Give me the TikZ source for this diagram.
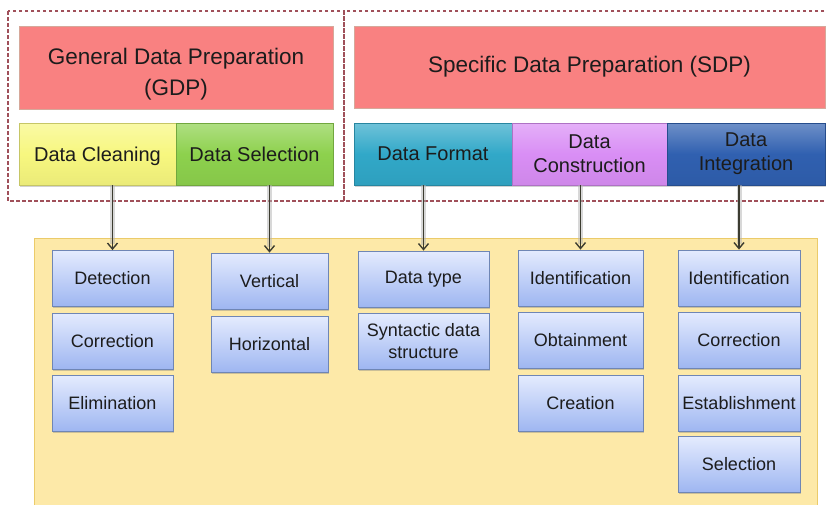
\documentclass[tikz,border=0pt]{standalone}
\usepackage{fontspec}
\setmainfont{Liberation Sans}
\usetikzlibrary{arrows.meta,shadows}

\definecolor{txt}{HTML}{1C1C1C}
\definecolor{dashred}{HTML}{A0505A}
\definecolor{prepred}{HTML}{F98181}
\definecolor{prepredline}{HTML}{D6A89A}
\definecolor{cleanY}{HTML}{F7F77F}
\definecolor{selG}{HTML}{8DD14D}
\definecolor{fmtT}{HTML}{31A8C8}
\definecolor{conP}{HTML}{D98EF5}
\definecolor{intB}{HTML}{3060B0}
\definecolor{panel}{HTML}{FDE9A8}
\definecolor{panelline}{HTML}{EBCB6A}
\definecolor{stepTop}{HTML}{E4EBFE}
\definecolor{stepBot}{HTML}{9EB6F1}
\definecolor{stepline}{HTML}{6F86B5}
\definecolor{conn}{HTML}{3C3C30}

\tikzset{
  zone/.style={draw=dashred, line width=1.1pt, dash pattern=on 3.5pt off 2.5pt},
  prep/.style={draw=prepredline, line width=0.8pt, fill=prepred, text=txt,
    align=center, inner sep=0pt, font=\fontsize{22.5}{31}\selectfont},
  phase/.style={draw=#1!80!black, line width=0.6pt, top color=#1!70!white, bottom color=#1!95!black,
    middle color=#1, text=txt, align=center, inner sep=0pt,
    font=\fontsize{20}{24}\selectfont,
    drop shadow={shadow xshift=1pt, shadow yshift=-1.5pt, opacity=.35}},
  task/.style={draw=stepline, line width=0.8pt, top color=stepTop, bottom color=stepBot,
    text=txt, align=center, inner sep=0pt, font=\fontsize{18}{22}\selectfont,
    drop shadow={shadow xshift=1.2pt, shadow yshift=-1.8pt, opacity=.4}},
  link/.style={draw=conn, line width=1.6pt,
    -{Straight Barb[length=6pt, width=10pt, line width=1.4pt]},
    preaction={draw=black!30, line width=5pt, opacity=.5, arrows=-, shorten >=6pt}},
}

\begin{document}
\begin{tikzpicture}[x=1pt, y=-1pt]
\useasboundingbox (0,0) rectangle (826,504);
\clip (0,0) rectangle (826,504);
\fill[white] (0,0) rectangle (826,504);

% panel holding the individual tasks
\draw[fill=panel, draw=panelline, line width=1pt] (34,238) rectangle (817,515);

% dashed groupings of the two preparation families
\draw[zone] (8,11) rectangle (344,201);
\draw[zone] (344,11) rectangle (832,201);

% families
\node[prep, minimum width=314pt, minimum height=83pt, text height=56pt, text depth=0pt] (gdp) at (176,67.5)
  {General Data Preparation\\(GDP)};
\node[prep, minimum width=471pt, minimum height=82pt] (sdp) at (589.5,67)
  {Specific Data Preparation (SDP)};

% phases
\node[phase=cleanY, minimum width=157pt, minimum height=62pt, text depth=0pt] (dc) at (97.5,154) {Data Cleaning};
\node[phase=selG, minimum width=157pt, minimum height=62pt] (ds) at (254.5,154) {Data Selection};
\node[phase=fmtT, minimum width=158pt, minimum height=62pt] (df) at (433,154) {Data Format};
\node[phase=conP, minimum width=155pt, minimum height=62pt] (dco) at (589.5,154) {Data\\Construction};
\node[phase=intB, minimum width=158pt, minimum height=62pt] (di) at (746,154) {Data\\Integration};

% tasks of Data Cleaning
\node[task, minimum width=121pt, minimum height=56pt] (c1) at (112.5,278.5) {Detection};
\node[task, minimum width=121pt, minimum height=56pt] (c2) at (112.5,341) {Correction};
\node[task, minimum width=121pt, minimum height=56pt] (c3) at (112.5,403.5) {Elimination};

% tasks of Data Selection
\node[task, minimum width=117pt, minimum height=56pt] (s1) at (269.5,281) {Vertical};
\node[task, minimum width=117pt, minimum height=56pt] (s2) at (269.5,344.5) {Horizontal};

% tasks of Data Format
\node[task, minimum width=131pt, minimum height=56pt] (f1) at (423.5,279) {Data type};
\node[task, minimum width=131pt, minimum height=56pt] (f2) at (423.5,341.5) {Syntactic data\\structure};

% tasks of Data Construction
\node[task, minimum width=125pt, minimum height=56pt] (k1) at (580.5,278) {Identification};
\node[task, minimum width=125pt, minimum height=56pt] (k2) at (580.5,340) {Obtainment};
\node[task, minimum width=125pt, minimum height=56pt] (k3) at (580.5,403.5) {Creation};

% tasks of Data Integration
\node[task, minimum width=122pt, minimum height=56pt] (i1) at (739,278) {Identification};
\node[task, minimum width=122pt, minimum height=56pt] (i2) at (739,340) {Correction};
\node[task, minimum width=122pt, minimum height=56pt] (i3) at (739,403.5) {Establishment};
\node[task, minimum width=122pt, minimum height=56pt] (i4) at (739,464.5) {Selection};

% phase -> tasks
\draw[link] (dc.south -| c1.north) -- (c1.north);
\draw[link] (ds.south -| s1.north) -- (s1.north);
\draw[link] (df.south -| f1.north) -- (f1.north);
\draw[link] (dco.south -| k1.north) -- (k1.north);
\draw[link] (di.south -| i1.north) -- (i1.north);
\end{tikzpicture}
\end{document}
